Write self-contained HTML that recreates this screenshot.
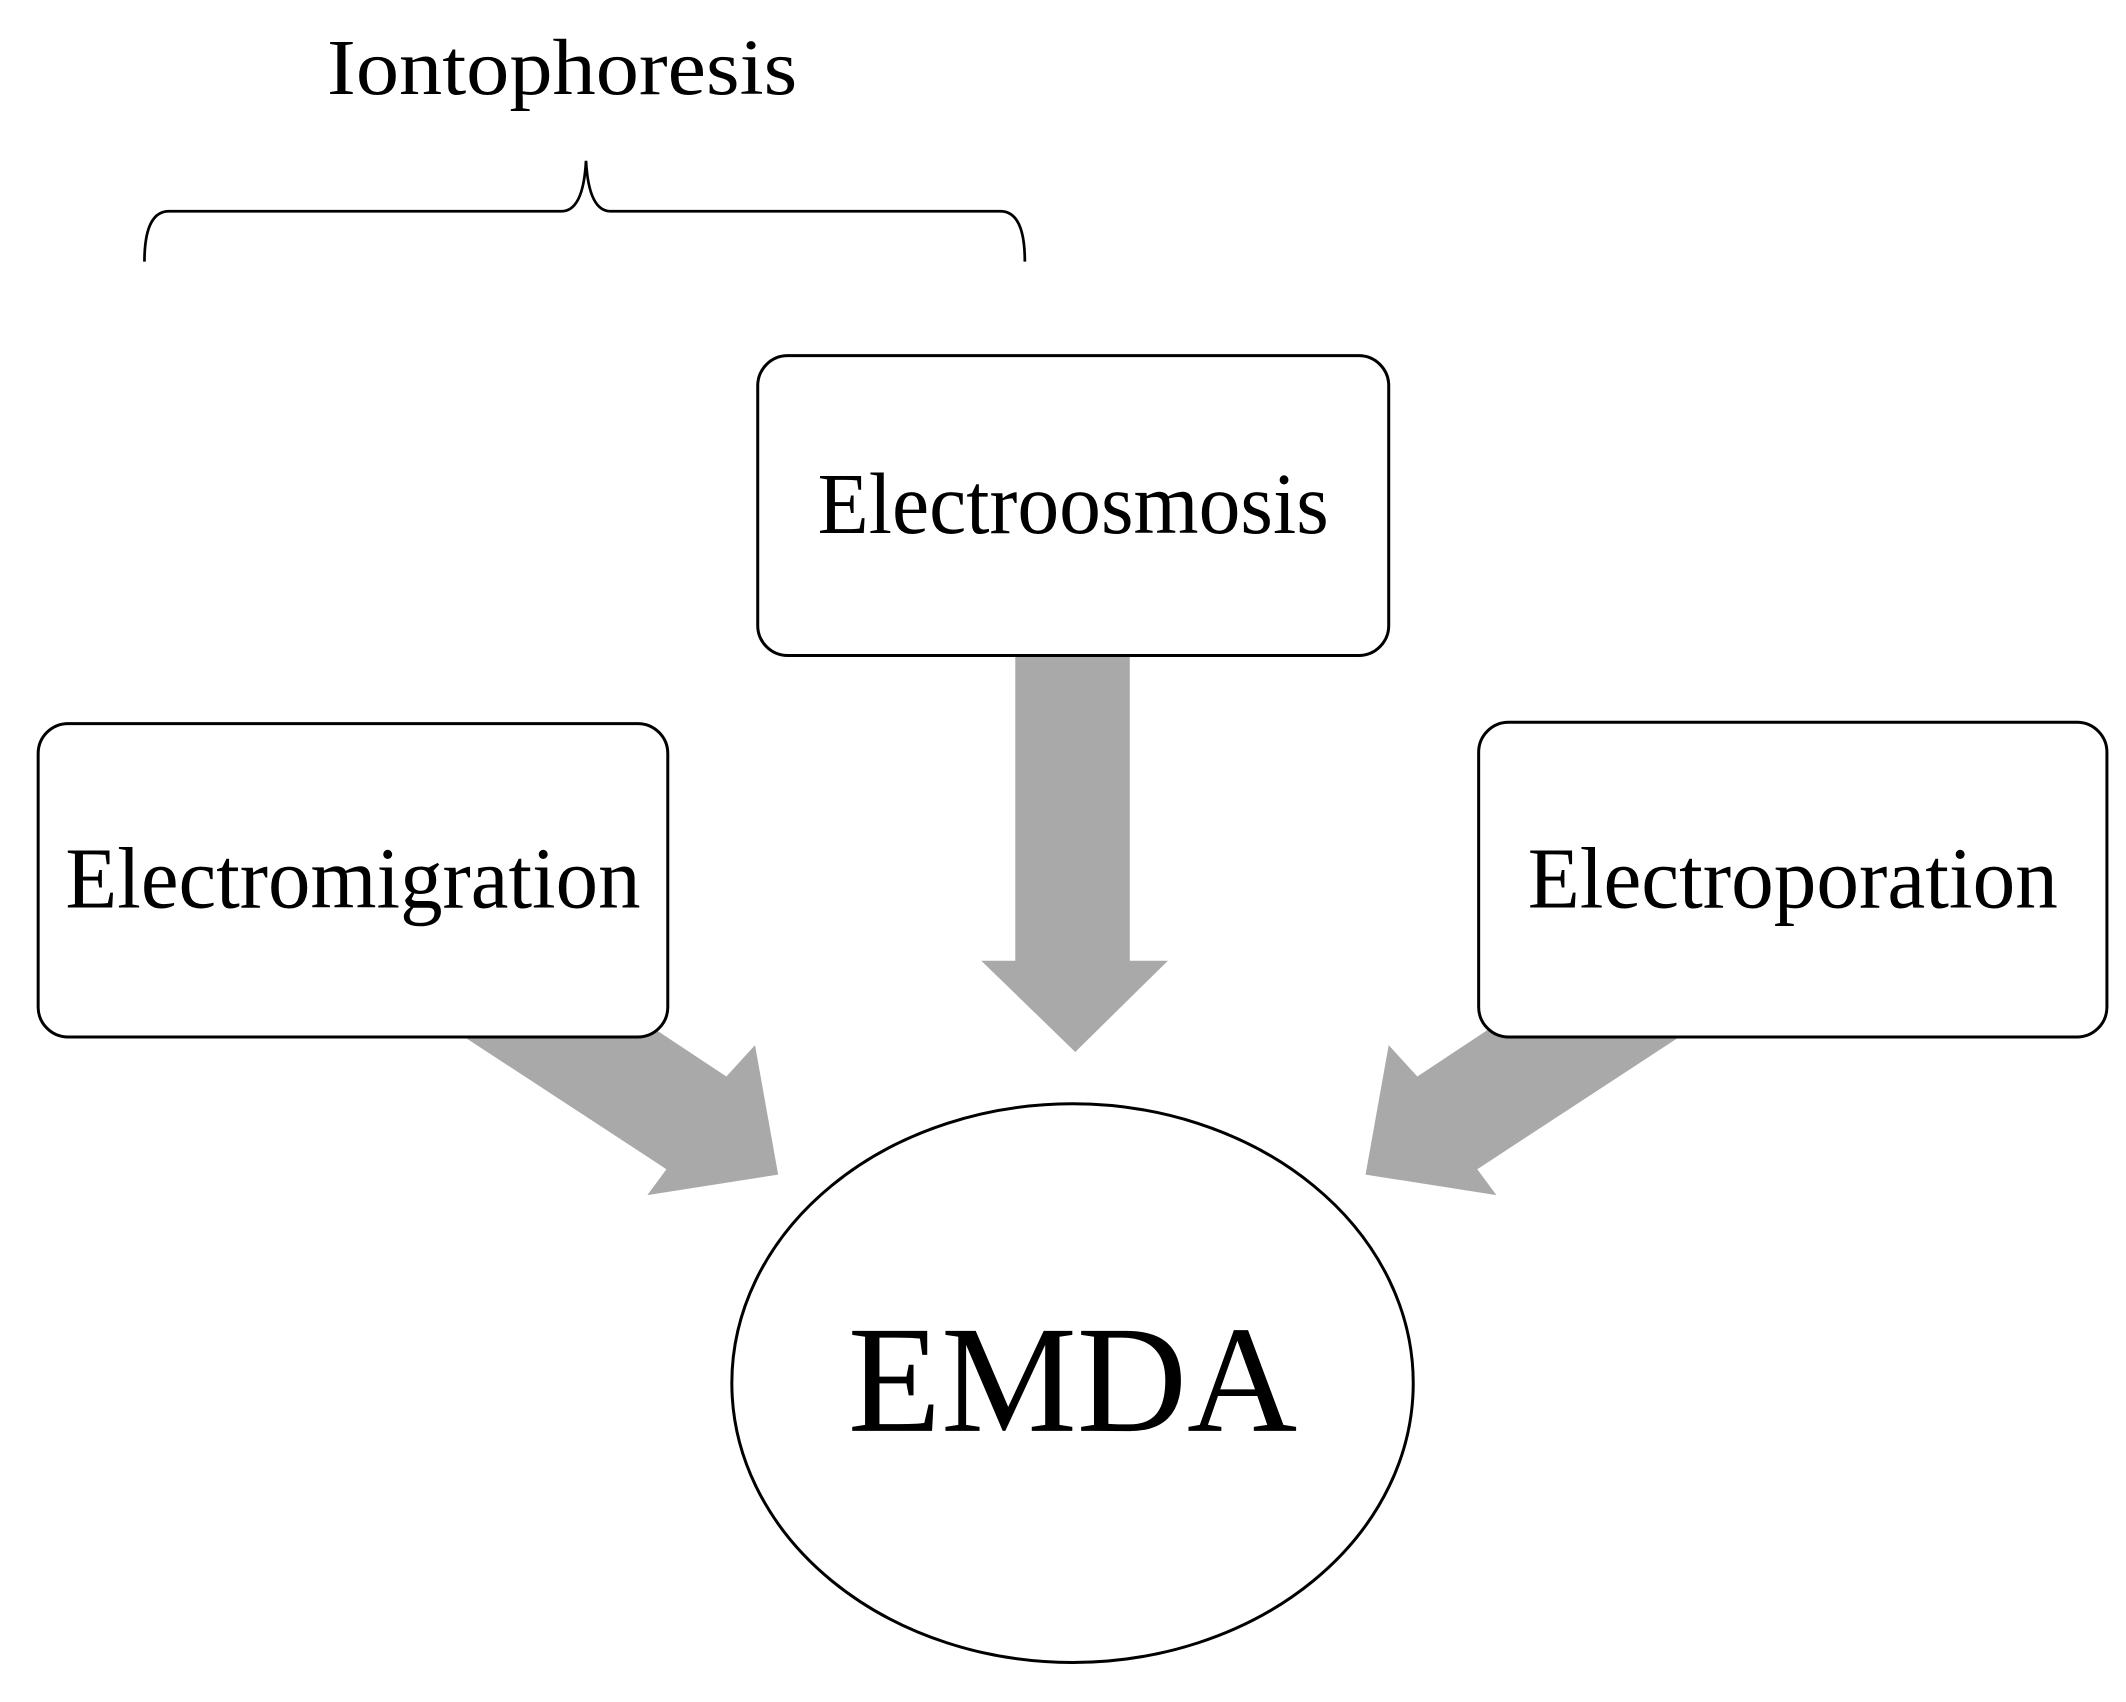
<!DOCTYPE html>
<html><head><meta charset="utf-8"><style>html,body{margin:0;padding:0;background:#fff;width:2126px;height:1702px;overflow:hidden}</style></head>
<body>
<svg width="2126" height="1702" viewBox="0 0 1560 1249" xmlns="http://www.w3.org/2000/svg" preserveAspectRatio="none">
<g font-family="Liberation Serif, serif" fill="#000">
<text x="240" y="69" font-size="58" textLength="345" lengthAdjust="spacingAndGlyphs">Iontophoresis</text>
</g>
<path d="M106,192 Q106,155 124,155 L412,155 Q428,155 430,118 Q432,155 448,155 L734,155 Q752,155 752,192" fill="none" stroke="#000" stroke-width="2"/>
<polygon points="745,470 829,470 829,705 857,705 789,772 720,705 745,705" fill="#a9a9a9"/>
<polygon points="301,735 450,735 533,790 554,767 571,862 475,877 489,858" fill="#a9a9a9"/>
<polygon points="1272,735 1123,735 1040,790 1019,767 1002,862 1098,877 1084,858" fill="#a9a9a9"/>
<rect x="556" y="261" width="463" height="220" rx="22" fill="#fff" stroke="#000" stroke-width="2.2"/>
<rect x="28" y="531" width="462" height="230" rx="22" fill="#fff" stroke="#000" stroke-width="2.2"/>
<rect x="1085" y="530" width="461" height="231" rx="22" fill="#fff" stroke="#000" stroke-width="2.2"/>
<ellipse cx="787" cy="1015" rx="250" ry="205" fill="#fff" stroke="#000" stroke-width="2.2"/>
<g font-family="Liberation Serif, serif" fill="#000">
<text x="600" y="391" font-size="64" textLength="375" lengthAdjust="spacingAndGlyphs">Electroosmosis</text>
<text x="48" y="666" font-size="64" textLength="422" lengthAdjust="spacingAndGlyphs">Electromigration</text>
<text x="1121" y="666" font-size="64" textLength="389" lengthAdjust="spacingAndGlyphs">Electroporation</text>
<text x="787" y="1050" font-size="112" text-anchor="middle">EMDA</text>
</g>
</svg>
</body></html>
